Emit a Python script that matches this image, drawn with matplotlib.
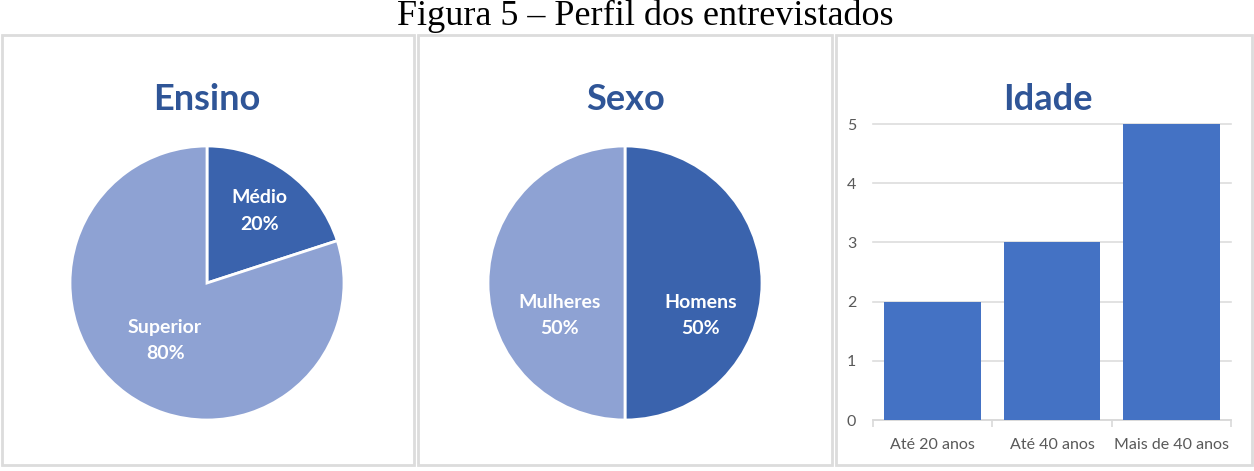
import matplotlib
matplotlib.use("Agg")
import matplotlib.pyplot as plt
from matplotlib.patches import Rectangle

# dados
ensino_labels = ["Médio", "Superior"]
ensino_vals = [20, 80]
sexo_labels = ["Homens", "Mulheres"]
sexo_vals = [50, 50]
idade_cats = ["Até 20 anos", "Até 40 anos", "Mais de 40 anos"]
idade_vals = [2, 3, 5]

W, H = 1254, 471
dark = "#3A63AD"
light = "#8EA2D3"
bar_col = "#4472C4"
title_col = "#2F5597"
grey = "#595959"
FONT = ["Lato", "DejaVu Sans"]

fig = plt.figure(figsize=(W / 100, H / 100), dpi=100)


def px_axes(x0, y0, x1, y1):
    # pixel box (top-left origin) -> figure axes
    return fig.add_axes([x0 / W, 1 - y1 / H, (x1 - x0) / W, (y1 - y0) / H])


fig.text(645 / W, 1 - 16 / H, "Figura 5 – Perfil dos entrevistados", ha="center", va="center",
         fontsize=26, family=["Liberation Serif", "DejaVu Serif"])

# caixas dos paineis
for x0, x1 in [(2, 414), (418, 832), (836, 1252)]:
    fig.patches.append(Rectangle((x0 / W, 1 - 465 / H), (x1 - x0) / W, 430 / H,
                                 transform=fig.transFigure, fill=False,
                                 edgecolor="#DCDCDC", lw=2))

for cx, t in [(207, "Ensino"), (626, "Sexo"), (1048, "Idade")]:
    fig.text(cx / W, 1 - 99 / H, t, ha="center", va="center", fontsize=26,
             fontweight="bold", color=title_col, family=FONT)

r = 137
lab_kw = dict(color="white", fontsize=14, fontweight="bold", family=FONT,
              ha="center", va="center", linespacing=1.65)

# Ensino
ax1 = px_axes(207 - r, 283 - r, 207 + r, 283 + r)
w, tx = ax1.pie(ensino_vals, colors=[dark, light], startangle=90, counterclock=False,
                radius=1, labels=[f"{l}\n{v}%" for l, v in zip(ensino_labels, ensino_vals)],
                labeldistance=1.0, wedgeprops=dict(edgecolor="white", linewidth=2),
                textprops=lab_kw)
for t, d in zip(tx, [0.65, 0.52]):
    x, y = t.get_position()
    t.set_position((x * d, y * d))
    t.set_ha("center")
ax1.set_xlim(-1, 1)
ax1.set_ylim(-1, 1)
ax1.set_aspect("equal")

# Sexo
ax2 = px_axes(625 - r, 283 - r, 625 + r, 283 + r)
w, tx = ax2.pie(sexo_vals, colors=[dark, light], startangle=90, counterclock=False,
                radius=1, labels=[f"{l}\n{v}%" for l, v in zip(sexo_labels, sexo_vals)],
                labeldistance=1.0, wedgeprops=dict(edgecolor="white", linewidth=2),
                textprops=lab_kw)
for t, d in zip(tx, [0.55, 0.48]):
    x, y = t.get_position()
    t.set_position((x * d, y * d - 0.24))
    t.set_ha("center")
ax2.set_xlim(-1, 1)
ax2.set_ylim(-1, 1)
ax2.set_aspect("equal")

# Idade
ax3 = px_axes(873, 124, 1231, 420)
xs = range(len(idade_cats))
ax3.bar(xs, idade_vals, width=0.81, color=bar_col, zorder=3)
ax3.set_xlim(-0.5, len(idade_cats) - 0.5)
ax3.set_ylim(0, 5)
ax3.set_yticks(range(6))
ax3.grid(axis="y", color="#DDDDDD", lw=1.2, zorder=0)
for ln in ax3.get_ygridlines():
    ln.set_clip_on(False)
for s in ["top", "right", "left"]:
    ax3.spines[s].set_visible(False)
ax3.spines["bottom"].set_color("#D9D9D9")
ax3.spines["bottom"].set_linewidth(1.2)
ax3.set_xticks(list(xs))
ax3.set_xticklabels(idade_cats)
ax3.set_xticks([-0.5, 0.5, 1.5, 2.5], minor=True)
ax3.tick_params(axis="x", which="major", length=0, pad=13, labelsize=11.5, labelcolor=grey)
ax3.tick_params(axis="x", which="minor", length=5, color="#D9D9D9", width=1.2)
ax3.tick_params(axis="y", length=0, pad=12, labelsize=11.5, labelcolor=grey)
for lb in ax3.get_xticklabels() + ax3.get_yticklabels():
    lb.set_family(FONT)

fig.savefig("out.png", dpi=100)
